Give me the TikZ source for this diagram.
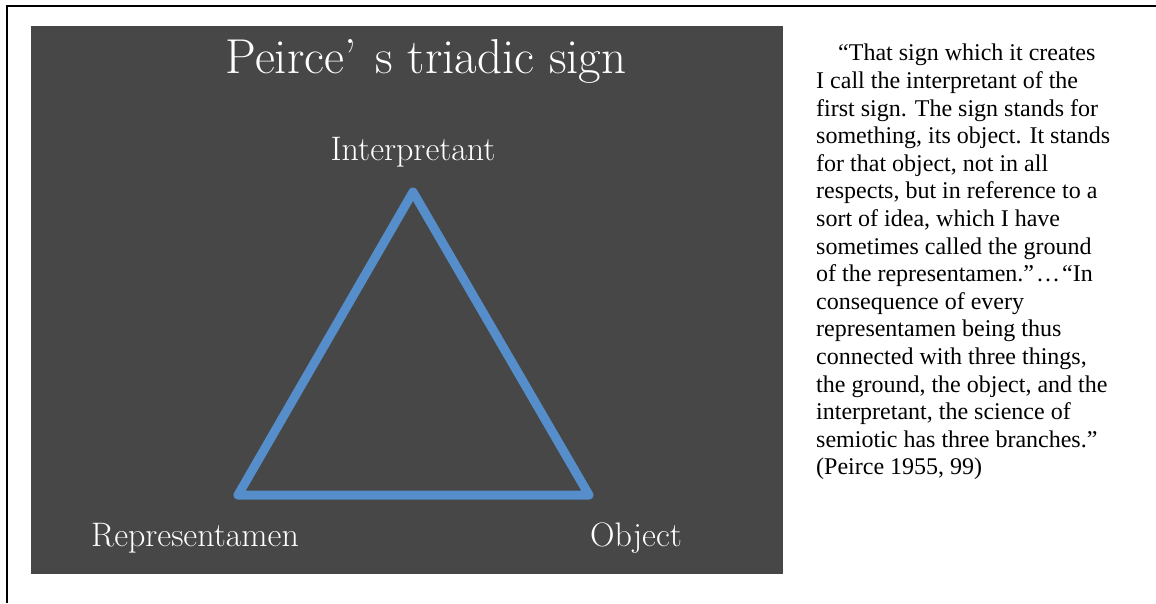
\documentclass[tikz,border=0pt]{standalone}
\usepackage{fontspec}
\newfontfamily\quotefont{Liberation Serif}
\definecolor{panelgray}{RGB}{71,71,71}
\definecolor{triblue}{RGB}{86,142,204}
\begin{document}
\begin{tikzpicture}[x=1pt,y=-1pt,
  corner/.style={text=white, inner sep=0pt, anchor=base, font=\fontsize{34}{40}\selectfont},
  side/.style={draw=triblue, line width=9pt, line join=round, line cap=round}]
\useasboundingbox (0,0) rectangle (1156,603);
% outer frame (only left and top edges visible)
\draw[line width=1.6pt, black] (7,603) -- (7,6) -- (1156,6);
% dark panel
\fill[panelgray] (31,26) rectangle (783,574);
% title
\node[text=white, inner sep=0pt, anchor=base, font=\fontsize{49}{55}\selectfont] (title) at (426,73) {Peirce’\hspace{4pt} s triadic sign};
% triangle vertices
\coordinate (I) at (413,192);
\coordinate (R) at (238,495);
\coordinate (O) at (589,495);
\draw[side] (I) -- (R) -- (O) -- cycle;
% labels
\node[corner] (lI) at (413,160) {Interpretant};
\node[corner] (lR) at (195,546) {Representamen};
\node[corner] (lO) at (636,546) {Object};
% quotation
\node[anchor=north west, inner sep=0pt, align=left, text=black,
      font=\quotefont\fontsize{24}{27.6}\selectfont] (quote) at (816,44)
{\hspace*{22pt}“That sign which it creates\\
I call the interpretant of the\\
first sign. The sign stands for\\
something, its object. It stands\\
for that object, not in all\\
respects, but in reference to a\\
sort of idea, which I have\\
sometimes called the ground\\
of the representamen.”\hspace{2pt}…\hspace{2pt}“In\\
consequence of every\\
representamen being thus\\
connected with three things,\\
the ground, the object, and the\\
interpretant, the science of\\
semiotic has three branches.”\\
(Peirce 1955, 99)};
\end{tikzpicture}
\end{document}
